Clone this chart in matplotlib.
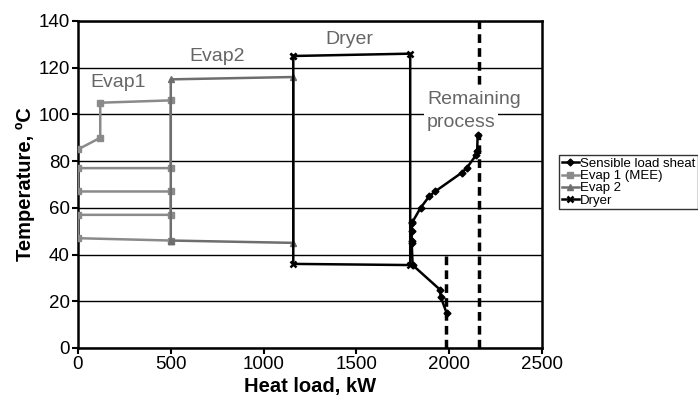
import matplotlib.pyplot as plt

plt.rcParams['font.family'] = ['Liberation Sans', 'DejaVu Sans']

# sensible load (remaining process)
sens_q = [1986, 1954, 1950, 1803, 1798, 1798, 1798, 1798, 1798, 1846, 1893, 1924, 2067, 2094, 2145, 2151, 2153]
sens_t = [15, 22, 25, 35.5, 45, 46, 50, 54, 53.4, 60, 65, 67, 75, 77, 82.6, 84.5, 91]

# evaporator 1 (MEE)
evap1_q = [0, 120, 120, 500, 500, 0, 0, 500, 500, 0, 0, 500]
evap1_t = [85, 90, 105, 106, 77, 77, 67, 67, 57, 57, 47, 46]

# evaporator 2
evap2_q = [500, 1160, 1160, 500, 500]
evap2_t = [46, 45, 116, 115, 46]

# dryer
dryer_q = [1160, 1790, 1790, 1160, 1160]
dryer_t = [125, 126, 35.5, 36, 125]

# dashed limits
dash1_q = [1985, 1985]
dash1_t = [0, 41]
dash2_q = [2160, 2160]
dash2_t = [0, 140]

fig = plt.figure(figsize=(6.98, 4.03), dpi=100)
ax = fig.add_axes([0.1117, 0.1365, 0.6648, 0.8115])

ax.plot(dash1_q, dash1_t, color='black', lw=2.5, ls=(0, (2.5, 1.5)), zorder=2)
ax.plot(dash2_q, dash2_t, color='black', lw=2.5, ls=(0, (2.5, 1.5)), zorder=2)

ax.plot(sens_q, sens_t, color='black', lw=1.8, marker='D', ms=3.5, label='Sensible load sheat', zorder=5)
ax.plot(evap1_q, evap1_t, color='#8a8a8a', lw=1.8, marker='s', ms=4, label='Evap 1 (MEE)', zorder=3)
ax.plot(evap2_q, evap2_t, color='#6e6e6e', lw=1.8, marker='^', ms=4, label='Evap 2', zorder=3)
ax.plot(dryer_q, dryer_t, color='black', lw=1.8, marker='x', ms=4, mew=1.8, label='Dryer', zorder=4)

lbl = dict(color='#666666', fontsize=14, va='baseline')
ax.text(68, 111.6, 'Evap1', **lbl)
ax.text(598, 122.9, 'Evap2', **lbl)
ax.text(1331, 130.3, 'Dryer', **lbl)
box = dict(facecolor='white', edgecolor='none', pad=2)
ax.text(1880, 104.3, 'Remaining', bbox=box, zorder=3, **lbl)
ax.text(1880, 94.7, 'process', bbox=box, zorder=3, **lbl)

ax.set_xlim(0, 2500)
ax.set_ylim(0, 140)
ax.set_xticks([0, 500, 1000, 1500, 2000, 2500])
ax.set_yticks(range(0, 141, 20))
ax.grid(axis='y', color='black', lw=1)
ax.set_axisbelow(True)
for s in ax.spines.values():
    s.set_linewidth(1.8)
ax.tick_params(labelsize=13.5, length=4, width=1.5, colors='black', pad=2)

ax.set_xlabel('Heat load, kW', fontsize=14.5, fontweight='bold', labelpad=3)
ax.set_ylabel('Temperature, \u00baC', fontsize=14.5, fontweight='bold', labelpad=2)

leg = ax.legend(loc='upper left', bbox_to_anchor=(1.0366, 0.59), fontsize=9.5, frameon=True, fancybox=False,
                edgecolor='black', borderpad=0.2, labelspacing=0.0, handlelength=1.3, handletextpad=0.1,
                borderaxespad=0)
leg.get_frame().set_linewidth(1)

fig.savefig('out.png', dpi=100)
